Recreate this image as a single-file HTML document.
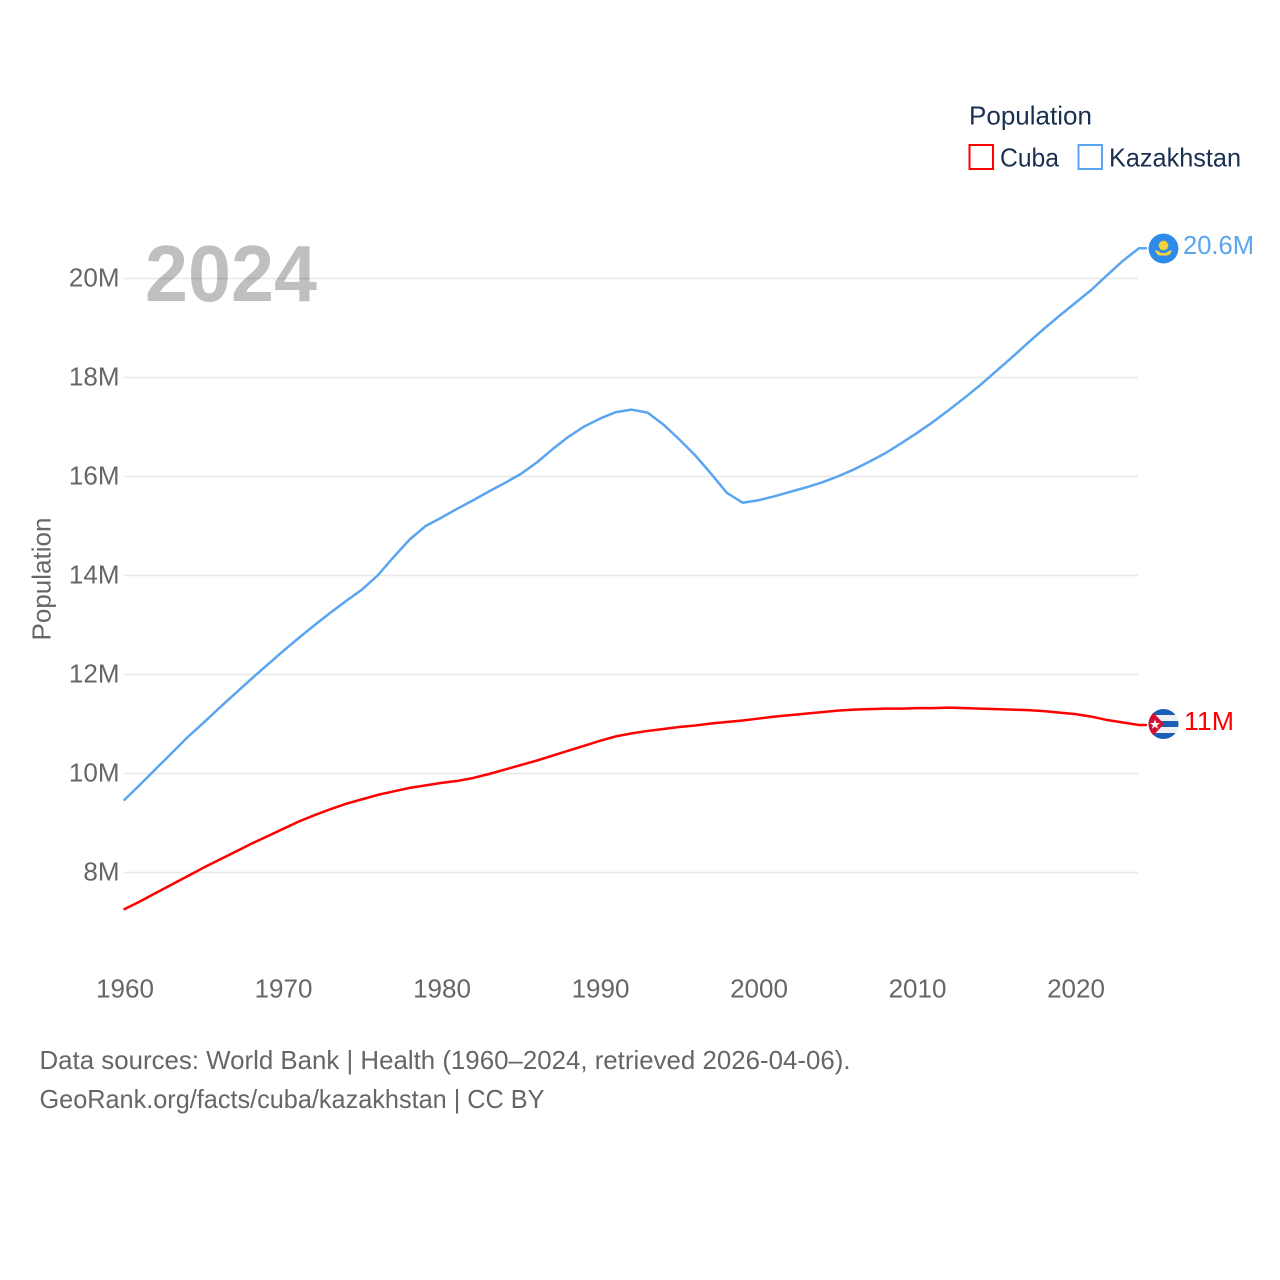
<!DOCTYPE html>
<html lang="en">
<head>
<meta charset="utf-8">
<title>Population: Cuba and Kazakhstan</title>
<style>
html,body{margin:0;padding:0;background:#fff;width:1280px;height:1280px;overflow:hidden}
svg{display:block;font-family:"Liberation Sans",sans-serif}
</style>
</head>
<body>
<svg id="chart" xmlns="http://www.w3.org/2000/svg" width="1280" height="1280" viewBox="0 0 1280 1280">
  <defs>
    <clipPath id="kz-clip"><circle cx="1163.5" cy="248.5" r="15"/></clipPath>
    <clipPath id="cu-clip"><circle cx="1163.5" cy="724" r="15"/></clipPath>
  </defs>
  <g id="grid"></g>
  <g id="yticks"></g>
  <g id="xticks"></g>
  <text x="145" y="301" font-size="80" font-weight="700" fill="#000" fill-opacity="0.25" textLength="172" lengthAdjust="spacingAndGlyphs">2024</text>
  <text transform="translate(50.5,579) rotate(-90)" text-anchor="middle" font-size="26" fill="#666" textLength="123" lengthAdjust="spacingAndGlyphs">Population</text>
  <g id="series"></g>

  <g>
    <text x="969" y="124.5" font-size="26" fill="#1a3050" textLength="123" lengthAdjust="spacingAndGlyphs">Population</text>
    <rect x="969.5" y="145" width="23.5" height="24" fill="none" stroke="#ff0000" stroke-width="2"/>
    <text x="1000" y="166.5" font-size="26" fill="#1a3050" textLength="59" lengthAdjust="spacingAndGlyphs">Cuba</text>
    <rect x="1078.5" y="145" width="23.5" height="24" fill="none" stroke="#5aa5f0" stroke-width="2"/>
    <text x="1109" y="166.5" font-size="26" fill="#1a3050" textLength="132" lengthAdjust="spacingAndGlyphs">Kazakhstan</text>
  </g>

  <g clip-path="url(#kz-clip)">
    <circle cx="1163.5" cy="248.5" r="15" fill="#2f8ae8"/>
    <circle cx="1163.5" cy="245.5" r="4.5" fill="#f5d33c" stroke="#f5d33c" stroke-width="1" stroke-dasharray="1.2 1.2"/>
    <path d="M1155 250 Q1159 251 1161 253 L1166 253 Q1168 251 1172 250 Q1170 255.5 1167.5 255.5 L1159.5 255.5 Q1157 255.5 1155 250Z" fill="#f5d33c"/>
  </g>
  <g clip-path="url(#cu-clip)">
    <rect x="1148" y="709" width="31" height="30" fill="#eef0f4"/>
    <rect x="1148" y="709" width="31" height="6" fill="#1a5fb4"/>
    <rect x="1148" y="721" width="31" height="6" fill="#1a5fb4"/>
    <rect x="1148" y="733" width="31" height="6" fill="#1a5fb4"/>
    <polygon points="1148,707 1164,724 1148,741" fill="#d4102f"/>
    <polygon points="1155,719.5 1156.3,723 1160,723 1157,725.2 1158.1,728.8 1155,726.6 1151.9,728.8 1153,725.2 1150,723 1153.7,723" fill="#fff"/>
  </g>
  <text id="label-kz" x="1183" y="254" font-size="26" fill="#5aa5f0" textLength="71" lengthAdjust="spacingAndGlyphs"></text>
  <text id="label-cu" x="1184" y="730" font-size="26" fill="#ff0000" textLength="50" lengthAdjust="spacingAndGlyphs"></text>

  <text x="39.5" y="1069" font-size="26" fill="#666" textLength="811" lengthAdjust="spacingAndGlyphs">Data sources: World Bank | Health (1960–2024, retrieved 2026-04-06).</text>
  <text x="39.5" y="1108" font-size="26" fill="#666" textLength="505" lengthAdjust="spacingAndGlyphs">GeoRank.org/facts/cuba/kazakhstan | CC BY</text>
</svg>
<script>
const years = [1960,1961,1962,1963,1964,1965,1966,1967,1968,1969,1970,1971,1972,1973,1974,1975,1976,1977,1978,1979,1980,1981,1982,1983,1984,1985,1986,1987,1988,1989,1990,1991,1992,1993,1994,1995,1996,1997,1998,1999,2000,2001,2002,2003,2004,2005,2006,2007,2008,2009,2010,2011,2012,2013,2014,2015,2016,2017,2018,2019,2020,2021,2022,2023,2024];
const cubaValues = [7.26,7.42,7.59,7.76,7.93,8.10,8.26,8.42,8.58,8.73,8.88,9.03,9.16,9.28,9.39,9.48,9.57,9.64,9.71,9.76,9.81,9.85,9.91,9.99,10.08,10.17,10.26,10.36,10.46,10.56,10.66,10.75,10.81,10.86,10.90,10.94,10.97,11.01,11.04,11.07,11.11,11.15,11.18,11.21,11.24,11.27,11.29,11.30,11.31,11.31,11.32,11.32,11.33,11.32,11.31,11.30,11.29,11.28,11.26,11.23,11.20,11.15,11.08,11.03,10.98];
const kazakhstanValues = [9.47,9.78,10.10,10.42,10.74,11.03,11.33,11.62,11.91,12.19,12.47,12.74,13.00,13.25,13.49,13.72,14.01,14.38,14.73,15.00,15.17,15.35,15.52,15.70,15.87,16.05,16.28,16.55,16.80,17.01,17.17,17.30,17.35,17.29,17.05,16.75,16.43,16.06,15.67,15.47,15.52,15.60,15.69,15.78,15.88,16.00,16.14,16.30,16.47,16.67,16.88,17.10,17.34,17.59,17.85,18.13,18.41,18.70,18.98,19.25,19.51,19.77,20.07,20.36,20.61];
const yTickValues = [8,10,12,14,16,18,20];
const xTickValues = [1960,1970,1980,1990,2000,2010,2020];

const SVG_NS = 'http://www.w3.org/2000/svg';
function xScale(year){ return 124.5 + (year - 1960) * 15.85; }
function yScale(v){ return 872.5 - (v - 8) * 49.5; }
function make(tag, attrs, parent){
  const el = document.createElementNS(SVG_NS, tag);
  for (const k in attrs) el.setAttribute(k, attrs[k]);
  parent.appendChild(el);
  return el;
}
function fmt(v){ return (Math.round(v * 10) / 10) + 'M'; }

const gridG = document.getElementById('grid');
const yG = document.getElementById('yticks');
const xG = document.getElementById('xticks');
const seriesG = document.getElementById('series');

yTickValues.forEach(function(v){
  const line = make('line', {x1:124, x2:1138, y1:yScale(v), y2:yScale(v), stroke:'#e8e8e8', 'stroke-width':1.5}, gridG);
  
  
  const t = make('text', {x:119.5, y:yScale(v) + 8, 'text-anchor':'end', 'font-size':26, fill:'#666'}, yG);
  
  
  t.textContent = v + 'M';
});

xTickValues.forEach(function(yr){
  const t = make('text', {x:xScale(yr) + 0.5, y:997.5, 'text-anchor':'middle', 'font-size':26, fill:'#666'}, xG);
  
  
  t.textContent = yr;
});

function drawSeries(values, color){
  let d = '';
  values.forEach(function(v, i){
    d += (i ? 'L' : 'M') + xScale(years[i]).toFixed(2) + ' ' + yScale(v).toFixed(2);
  });
  const last = values[values.length - 1];
  d += 'L' + (xScale(years[years.length - 1]) + 7).toFixed(2) + ' ' + yScale(last).toFixed(2);
  return make('path', {d:d, fill:'none', stroke:color, 'stroke-width':2.5, 'stroke-linejoin':'round', 'stroke-linecap':'round'}, seriesG);
}
const cubaLine = drawSeries(cubaValues, '#ff0000');


const kzLine = drawSeries(kazakhstanValues, '#5aa5f0');



document.getElementById('label-kz').textContent = fmt(kazakhstanValues[kazakhstanValues.length - 1]);
document.getElementById('label-cu').textContent = fmt(cubaValues[cubaValues.length - 1]);
</script>
</body>
</html>
